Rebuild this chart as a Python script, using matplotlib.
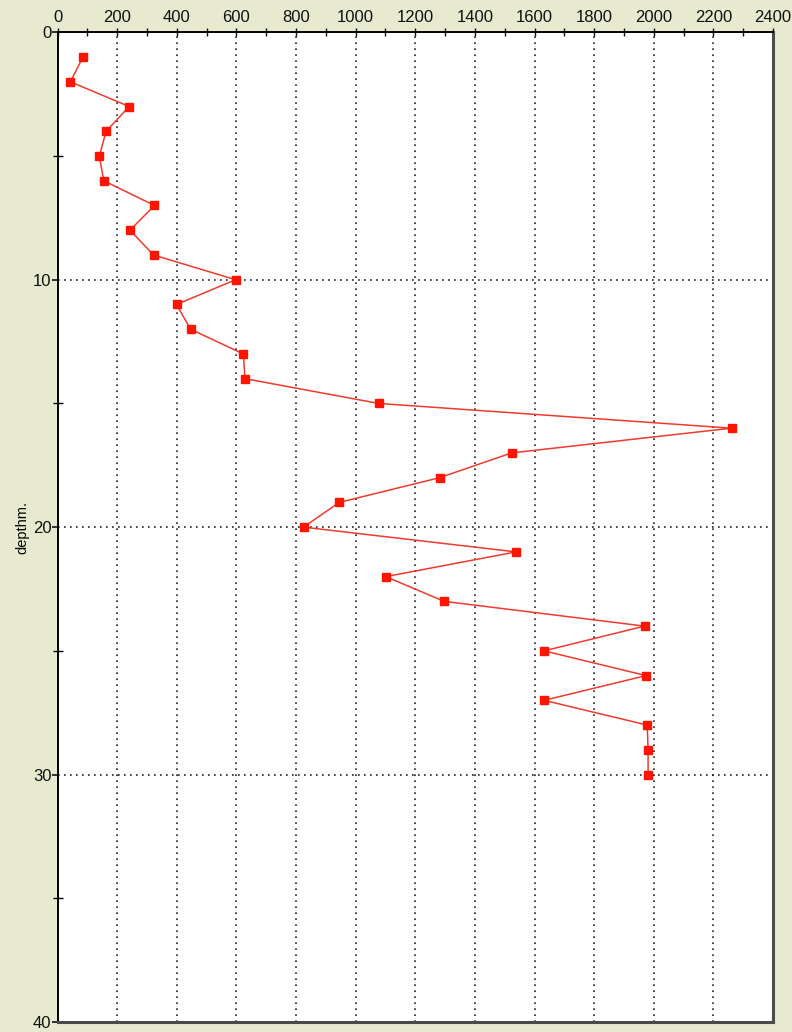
import matplotlib
matplotlib.use("Agg")
import matplotlib.pyplot as plt
from matplotlib.ticker import MultipleLocator

plt.rcParams["font.family"] = ["Liberation Sans", "DejaVu Sans"]

# depth (m) and measured value at each depth
depth = list(range(1, 31))
value = [85, 43, 240, 163, 140, 155, 325, 243, 322, 597,
         399, 446, 623, 629, 1077, 2261, 1523, 1282, 945, 825,
         1538, 1101, 1297, 1969, 1632, 1974, 1632, 1978, 1981, 1981]

x_ticks = list(range(0, 2401, 200))
y_ticks = [0, 10, 20, 30, 40]

bg = "#e7eacf"
fig = plt.figure(figsize=(7.92, 10.32), dpi=100, facecolor=bg)
ax = fig.add_axes([0.0727, 0.0097, 0.9033, 0.9590])
ax.set_facecolor("white")

ax.plot(value, depth, color="#f03a2c", lw=1.1, marker="s", ms=5.5,
        mfc="#ff1400", mec="#ff1400", zorder=3)

ax.set_xlim(0, 2400)
ax.set_ylim(40, 0)
ax.xaxis.tick_top()
ax.set_xticks(x_ticks)
ax.set_yticks(y_ticks)
ax.xaxis.set_minor_locator(MultipleLocator(100))
ax.yaxis.set_minor_locator(MultipleLocator(5))

ax.tick_params(axis="x", which="both", direction="inout", length=6,
               width=1, pad=2, labelsize=12, colors="#111111")
ax.tick_params(axis="y", which="minor", direction="inout", length=7,
               width=1)
ax.tick_params(axis="y", which="major", direction="out", length=4,
               width=1.2, pad=0.5, labelsize=12, colors="#111111")

ax.grid(True, which="major", color="#222222", lw=1.2,
        linestyle=(0, (1, 2.6)))

for side in ("top", "left"):
    ax.spines[side].set_color("black")
    ax.spines[side].set_linewidth(1.4)
for side in ("right", "bottom"):
    ax.spines[side].set_color("#4a4a4a")
    ax.spines[side].set_linewidth(2.2)

fig.text(0.028, 0.489, "depthm.", rotation=90, ha="center", va="center",
         fontsize=10.5)

fig.savefig("out.png", dpi=100, facecolor=bg)
